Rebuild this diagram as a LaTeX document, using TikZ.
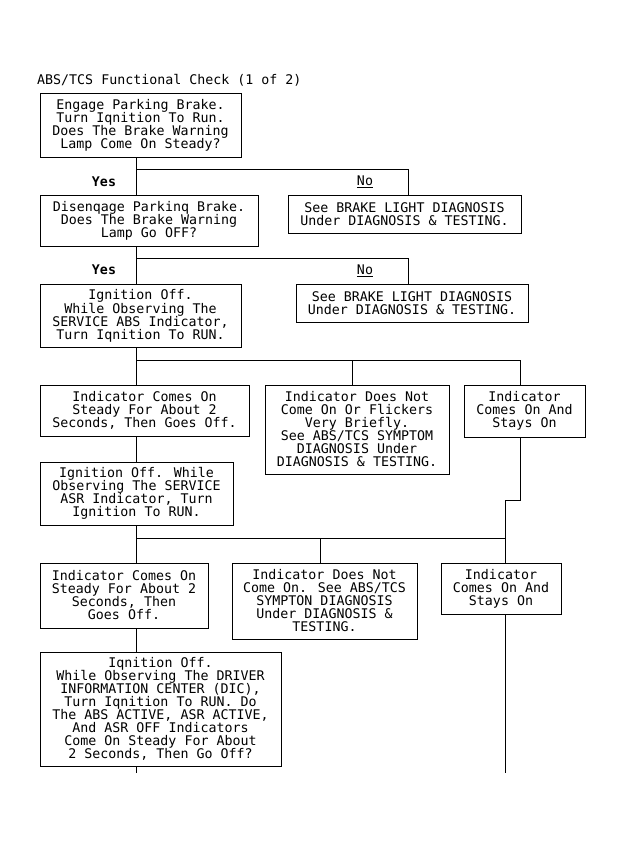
\documentclass[tikz,border=0pt]{standalone}
\usepackage{fontspec}
\newfontfamily\flowfont{DejaVu Sans Mono}
\usetikzlibrary{calc}
\tikzset{
  chk/.style={draw, line width=0.9pt, inner sep=0pt, align=center,
    font=\flowfont\fontsize{13.3}{13}\selectfont},
  lbl/.style={inner sep=0pt, font=\flowfont\fontsize{13.3}{13}\selectfont},
  wire/.style={line width=0.9pt}
}
\begin{document}
\begin{tikzpicture}[x=1pt, y=-1pt]
		%%%%% START %%%%%
		\useasboundingbox (0, 0) rectangle (623, 848);
		
		\node[lbl, anchor=west] (title) at (37, 80) {ABS/TCS Functional Check (1 of 2)};
		
		\node[chk, minimum width=201, minimum height=64] (park) at (140.5, 125)
			{Engage Parking Brake.\\Turn Iqnition To Run.\\Does The Brake Warning\\Lamp Come On Steady?};
		\node[chk, minimum width=218, minimum height=51] (release) at (149, 220.5)
			{Disenqage Parkinq Brake.\\Does The Brake Warning\\Lamp Go OFF?};
		\node[chk, minimum width=233, minimum height=38] (lightA) at (404.5, 214)
			{See BRAKE LIGHT DIAGNOSIS\\Under DIAGNOSIS \& TESTING.};
		\node[chk, minimum width=201, minimum height=63] (absign) at (140.5, 315.5)
			{Ignition Off.\\While Observing The\\SERVICE ABS Indicator,\\Turn Iqnition To RUN.};
		\node[chk, minimum width=232, minimum height=38] (lightB) at (412, 303)
			{See BRAKE LIGHT DIAGNOSIS\\Under DIAGNOSIS \& TESTING.};
		
		\node[chk, minimum width=209, minimum height=51] (absok) at (144.5, 410.5)
			{Indicator Comes On\\Steady For About 2\\Seconds, Then Goes Off.};
		\node[chk, minimum width=184, minimum height=89] (absnot) at (357, 429.5)
			{Indicator Does Not\\Come On Or Flickers\\Very Briefly.\\See ABS/TCS SYMPTOM\\DIAGNOSIS Under\\DIAGNOSIS \& TESTING.};
		\node[chk, minimum width=121, minimum height=52] (abson) at (524.5, 411)
			{Indicator\\Comes On And\\Stays On};
		
		\node[chk, minimum width=193, minimum height=63] (asrign) at (136.5, 493.5)
			{Ignition Off. While\\Observing The SERVICE\\ASR Indicator, Turn\\Ignition To RUN.};
		
		\node[chk, minimum width=168, minimum height=65] (asrok) at (124, 595.5)
			{Indicator Comes On\\Steady For About 2\\Seconds, Then\\Goes Off.};
		\node[chk, minimum width=185, minimum height=76] (asrnot) at (324.5, 601)
			{Indicator Does Not\\Come On. See ABS/TCS\\SYMPTON DIAGNOSIS\\Under DIAGNOSIS \&\\TESTING.};
		\node[chk, minimum width=120, minimum height=51] (asron) at (501, 588.5)
			{Indicator\\Comes On And\\Stays On};
		
		\node[chk, minimum width=241, minimum height=114] (dicign) at (160.5, 709)
			{Iqnition Off.\\While Observing The DRIVER\\INFORMATION CENTER (DIC),\\Turn Iqnition To RUN. Do\\The ABS ACTIVE, ASR ACTIVE,\\And ASR OFF Indicators\\Come On Steady For About\\2 Seconds, Then Go Off?};
		
		\node[lbl, font=\flowfont\bfseries\fontsize{13.3}{13}\selectfont] (yesA) at (104, 182) {Yes};
		\node[lbl] (noA) at (365, 182) {\underline{No}};
		\node[lbl, font=\flowfont\bfseries\fontsize{13.3}{13}\selectfont] (yesB) at (104, 270) {Yes};
		\node[lbl] (noB) at (365, 271) {\underline{No}};
		
		% junction points
		\coordinate (spine) at (136, 0);
		\coordinate (jA) at (136, 169);
		\coordinate (kA) at (408, 169);
		\coordinate (jB) at (136, 258);
		\coordinate (kB) at (408, 258);
		\coordinate (jC) at (136, 360);
		\coordinate (mC) at (352, 360);
		\coordinate (kC) at (520, 360);
		\coordinate (step) at (505, 500);
		\coordinate (jD) at (136, 538);
		\coordinate (mD) at (320, 538);
		\coordinate (kD) at (505, 538);
		\coordinate (endL) at (136, 772.5);
		\coordinate (endR) at (505, 772.5);
		
		\draw[wire] (park.south -| spine) -- (release.north -| spine);
		\draw[wire] (jA) -- (kA) -- (lightA.north -| kA);
		\draw[wire] (release.south -| spine) -- (absign.north -| spine);
		\draw[wire] (jB) -- (kB) -- (lightB.north -| kB);
		
		\draw[wire] (absign.south -| spine) -- (absok.north -| spine);
		\draw[wire] (jC) -- (kC) -- (abson.north -| kC);
		\draw[wire] (mC) -- (absnot.north -| mC);
		\draw[wire] (abson.south -| kC) |- (step) -- (asron.north -| step);
		
		\draw[wire] (absok.south -| spine) -- (asrign.north -| spine);
		\draw[wire] (asrign.south -| spine) -- (asrok.north -| spine);
		\draw[wire] (jD) -- (kD);
		\draw[wire] (mD) -- (asrnot.north -| mD);
		
		\draw[wire] (asrok.south -| spine) -- (dicign.north -| spine);
		\draw[wire] (dicign.south -| spine) -- (endL);
		\draw[wire] (asron.south -| step) -- (endR);
		
		%%%%% END %%%%%
	\end{tikzpicture}
\end{document}
